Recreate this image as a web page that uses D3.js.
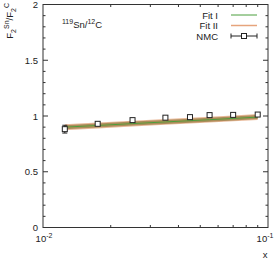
<!DOCTYPE html>
<html><head><meta charset="utf-8">
<script src="https://cdn.jsdelivr.net/npm/d3@7"></script>
<style>body{margin:0;background:#fff}svg text{font-family:"Liberation Sans",Arial,sans-serif;fill:#222}</style>
</head><body><svg id="c" width="277" height="260"></svg>
<script>
// data
const nmcX = [0.0125, 0.0175, 0.025, 0.035, 0.045, 0.055, 0.07, 0.09];
const nmcY = [0.882, 0.930, 0.963, 0.985, 0.990, 1.008, 1.010, 1.013];
const nmcErr = [0.035, 0.014, 0.010, 0.010, 0.010, 0.010, 0.010, 0.011];
const fitX = [0.0125, 0.0175, 0.025, 0.035, 0.045, 0.055, 0.07, 0.09];
const fit1 = [0.900, 0.915, 0.932, 0.947, 0.958, 0.967, 0.978, 0.990];
const fit1Err = [0.018, 0.018, 0.018, 0.018, 0.018, 0.018, 0.018, 0.018];
const fit2 = [0.899, 0.915, 0.932, 0.948, 0.959, 0.968, 0.979, 0.991];
const fit2Err = [0.026, 0.026, 0.026, 0.026, 0.026, 0.026, 0.026, 0.026];
const yTicks = [0, 0.5, 1, 1.5, 2];
const yTickLabels = ["0", "0.5", "1", "1.5", "2"];
const xMajor = [0.01, 0.1];
const xMajorExp = ["-2", "-1"];
const legendNames = ["Fit I", "Fit II", "NMC"];

const svg = d3.select("#c");
const L = 43, R = 268, T = 4.5, B = 227.5;
const x = d3.scaleLog().domain([0.01, 0.1]).range([L, R]);
const y = d3.scaleLinear().domain([0, 2]).range([B, T]);

// bands
const area = (c, e) => d3.area().x((d, i) => x(fitX[i])).y0((d, i) => y(c[i] - e[i])).y1((d, i) => y(c[i] + e[i]));
const line = c => d3.line().x((d, i) => x(fitX[i])).y((d, i) => y(c[i]));
svg.append("path").datum(fitX).attr("d", area(fit2, fit2Err)).attr("fill", "#e4a880").attr("opacity", 0.8);
svg.append("path").datum(fitX).attr("d", area(fit1, fit1Err)).attr("fill", "#7f6e2e").attr("opacity", 0.6);
svg.append("path").datum(fitX).attr("d", line(fit2)).attr("fill", "none").attr("stroke", "#d98a5a").attr("stroke-width", 1);
svg.append("path").datum(fitX).attr("d", line(fit1)).attr("fill", "none").attr("stroke", "#4a9e3c").attr("stroke-width", 1);

// frame
svg.append("rect").attr("x", L).attr("y", T).attr("width", R - L).attr("height", B - T)
  .attr("fill", "none").attr("stroke", "#333").attr("stroke-width", 1);

// y ticks
const yMinor = d3.range(0, 2.0001, 0.1).map(v => +v.toFixed(2));
yMinor.forEach(v => {
  const maj = yTicks.includes(v);
  const len = maj ? 5 : 2.5;
  svg.append("line").attr("x1", L).attr("x2", L + len).attr("y1", y(v)).attr("y2", y(v)).attr("stroke", "#333");
  svg.append("line").attr("x1", R).attr("x2", R - len).attr("y1", y(v)).attr("y2", y(v)).attr("stroke", "#333");
});
yTicks.forEach((v, i) => {
  svg.append("text").attr("x", L - 5).attr("y", y(v) + 3.5).attr("text-anchor", "end")
    .attr("font-size", 9.5).text(yTickLabels[i]);
});
// x ticks
const xMinor = d3.range(2, 10).map(k => k * 0.01);
xMinor.forEach(v => {
  svg.append("line").attr("x1", x(v)).attr("x2", x(v)).attr("y1", B).attr("y2", B - 2.5).attr("stroke", "#333");
  svg.append("line").attr("x1", x(v)).attr("x2", x(v)).attr("y1", T).attr("y2", T + 2.5).attr("stroke", "#333");
});
xMajor.forEach((v, i) => {
  const t = svg.append("text").attr("x", x(v) + (i === 1 ? -3 : 1)).attr("y", 242).attr("text-anchor", "middle").attr("font-size", 9.5);
  t.append("tspan").text("10");
  t.append("tspan").attr("font-size", 7).attr("dy", -4).text(xMajorExp[i]);
});
svg.append("text").attr("x", 265).attr("y", 258).attr("text-anchor", "middle").attr("font-size", 9.5).text("x");

// y label
const yl = svg.append("text").attr("transform", "translate(13,3) rotate(-90)").attr("text-anchor", "end").attr("font-size", 9.5);
yl.append("tspan").text("F");
yl.append("tspan").attr("font-size", 7).attr("dy", 3).text("2");
yl.append("tspan").attr("font-size", 7).attr("dy", -7).text("Sn");
yl.append("tspan").attr("dy", 4).text("/F");
yl.append("tspan").attr("font-size", 7).attr("dy", 3).text("2");
yl.append("tspan").attr("font-size", 7).attr("dy", -7).text("C");

// annotation
const an = svg.append("text").attr("x", 62).attr("y", 28).attr("font-size", 9.5);
an.append("tspan").attr("font-size", 7).attr("dy", -4).text("119");
an.append("tspan").attr("dy", 4).text("Sn/");
an.append("tspan").attr("font-size", 7).attr("dy", -4).text("12");
an.append("tspan").attr("dy", 4).text("C");

// NMC points
const g = svg.append("g");
nmcX.forEach((xv, i) => {
  const px = x(xv);
  g.append("line").attr("x1", px).attr("x2", px).attr("y1", y(nmcY[i] - nmcErr[i])).attr("y2", y(nmcY[i] + nmcErr[i])).attr("stroke", "#222");
  [nmcY[i] - nmcErr[i], nmcY[i] + nmcErr[i]].forEach(e => {
    g.append("line").attr("x1", px - 2.5).attr("x2", px + 2.5).attr("y1", y(e)).attr("y2", y(e)).attr("stroke", "#222");
  });
  g.append("rect").attr("x", px - 2.5).attr("y", y(nmcY[i]) - 2.5).attr("width", 5).attr("height", 5)
    .attr("fill", "#fff").attr("stroke", "#222").attr("stroke-width", 1);
});

// legend
const lx0 = 231, lx1 = 257, ltx = 218;
const lys = [15, 25.5, 36];
legendNames.forEach((n, i) => {
  svg.append("text").attr("x", ltx).attr("y", lys[i] + 3.5).attr("text-anchor", "end").attr("font-size", 9.5).text(n);
});
svg.append("line").attr("x1", lx0).attr("x2", lx1).attr("y1", lys[0]).attr("y2", lys[0]).attr("stroke", "#4a9e3c");
svg.append("line").attr("x1", lx0).attr("x2", lx1).attr("y1", lys[1]).attr("y2", lys[1]).attr("stroke", "#e6a47c").attr("stroke-width", 1.5);
svg.append("line").attr("x1", lx0).attr("x2", lx1).attr("y1", lys[2]).attr("y2", lys[2]).attr("stroke", "#222");
[lx0, lx1].forEach(v => svg.append("line").attr("x1", v).attr("x2", v).attr("y1", lys[2] - 2.5).attr("y2", lys[2] + 2.5).attr("stroke", "#222"));
svg.append("rect").attr("x", (lx0 + lx1) / 2 - 2.5).attr("y", lys[2] - 2.5).attr("width", 5).attr("height", 5).attr("fill", "#fff").attr("stroke", "#222");
</script></body></html>
